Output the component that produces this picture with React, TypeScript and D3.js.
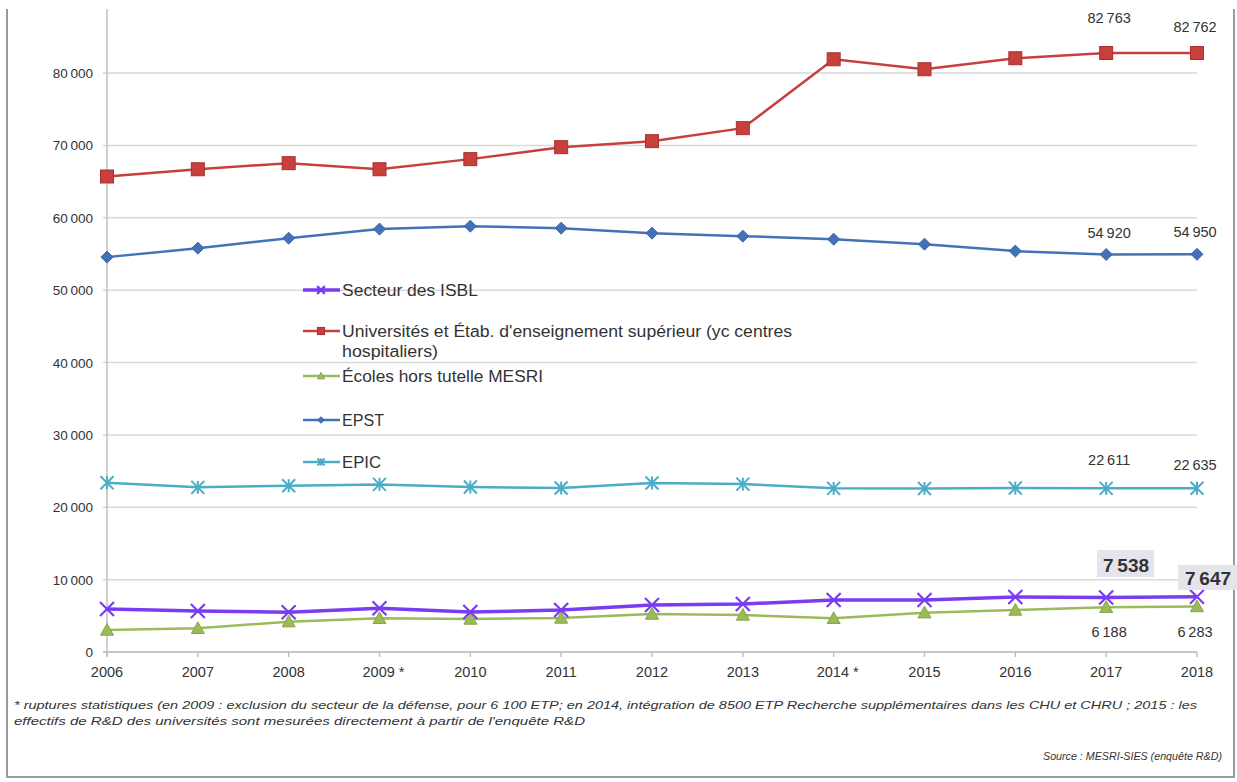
import React from "react";
import * as d3 from "d3";

const years = ["2006", "2007", "2008", "2009 *", "2010", "2011", "2012", "2013", "2014 *", "2015", "2016", "2017", "2018"];
const universites = [65700, 66700, 67540, 66700, 68100, 69750, 70580, 72380, 81900, 80520, 82040, 82763, 82762];
const epst = [54560, 55800, 57180, 58430, 58840, 58560, 57870, 57460, 57040, 56350, 55390, 54920, 54950];
const epic = [23380, 22750, 22970, 23160, 22790, 22650, 23340, 23200, 22610, 22600, 22650, 22611, 22635];
const isbl = [5940, 5660, 5480, 6040, 5520, 5800, 6490, 6630, 7180, 7180, 7600, 7538, 7647];
const ecoles = [3040, 3270, 4190, 4650, 4560, 4700, 5250, 5110, 4650, 5430, 5800, 6188, 6283];
const yTicks = [0, 10000, 20000, 30000, 40000, 50000, 60000, 70000, 80000];

const W = 1237, H = 782;
const fmt = (v: number) => d3.format(",")(v).replace(/,/g, "\u202F");

type Marker = "square" | "diamond" | "triangle" | "star" | "cross";

const series = [
  { name: "Secteur des ISBL", values: isbl, color: "#7a3cf0", stroke: "#6a2de0", marker: "cross" as Marker, width: 3.5, legendW: [136] },
  { name: "Universités et Étab. d'enseignement supérieur (yc centres|hospitaliers)", values: universites, color: "#c8403e", stroke: "#a8302e", marker: "square" as Marker, width: 2.5, legendW: [450, 96] },
  { name: "Écoles hors tutelle MESRI", values: ecoles, color: "#9bbb59", stroke: "#86a648", marker: "triangle" as Marker, width: 2.5, legendW: [201] },
  { name: "EPST", values: epst, color: "#4472b8", stroke: "#3a64a6", marker: "diamond" as Marker, width: 2.5, legendW: [42] },
  { name: "EPIC", values: epic, color: "#4bacc6", stroke: "#3c9cb6", marker: "star" as Marker, width: 2.5, legendW: [39] },
];

function MarkerShape({ type, x, y, color, stroke, s = 1 }: { type: Marker; x: number; y: number; color: string; stroke: string; s?: number }) {
  if (type === "square") {
    const r = 6.5 * s;
    return <rect x={x - r} y={y - r} width={2 * r} height={2 * r} fill={color} stroke={stroke} strokeWidth={1} />;
  }
  if (type === "diamond") {
    const r = 6 * s;
    return <path d={`M${x},${y - r}L${x + r},${y}L${x},${y + r}L${x - r},${y}Z`} fill={color} stroke={stroke} strokeWidth={1} />;
  }
  if (type === "triangle") {
    const r = 6.5 * s;
    return <path d={`M${x},${y - r}L${x + r},${y + r * 0.8}L${x - r},${y + r * 0.8}Z`} fill={color} stroke={stroke} strokeWidth={1} />;
  }
  if (type === "star") {
    const r = 6.5 * s;
    return (
      <g stroke={color} strokeWidth={2}>
        <line x1={x - r} y1={y - r} x2={x + r} y2={y + r} />
        <line x1={x - r} y1={y + r} x2={x + r} y2={y - r} />
        <line x1={x} y1={y - r} x2={x} y2={y + r} />
      </g>
    );
  }
  const r = 7 * s;
  return (
    <g stroke={color} strokeWidth={2.2}>
      <line x1={x - r} y1={y - r} x2={x + r} y2={y + r} />
      <line x1={x - r} y1={y + r} x2={x + r} y2={y - r} />
    </g>
  );
}

export default function App() {
  const x = d3.scalePoint<string>().domain(years).range([107, 1197]);
  const y = d3.scaleLinear().domain([0, 80000]).range([652, 73]);
  const line = d3.line<number>().x((_, i) => x(years[i]) as number).y((d) => y(d));
  const font = "Arial, 'Liberation Sans', sans-serif";
  const textColor = "#333";

  const legendY = [290, 331, 376, 420, 462];

  const labels = [
    { yr: 11, v: universites[11], dy: -30 },
    { yr: 12, v: universites[12], dy: -21 },
    { yr: 11, v: epst[11], dy: -17 },
    { yr: 12, v: epst[12], dy: -17 },
    { yr: 11, v: epic[11], dy: -23 },
    { yr: 12, v: epic[12], dy: -18 },
    { yr: 11, v: ecoles[11], dy: 30 },
    { yr: 12, v: ecoles[12], dy: 30 },
  ];

  return (
    <svg width={W} height={H} style={{ position: "absolute", left: 0, top: 0, background: "#fff" }} fontFamily={font}>
      <rect x={0} y={0} width={W} height={H} fill="#fff" />
      {/* frame */}
      <path d={`M7,9V777H1234V9`} fill="none" stroke="#9a9a9a" strokeWidth={2} />
      {/* gridlines */}
      {yTicks.map((t) => (
        <g key={t}>
          <line x1={103} x2={1197} y1={y(t)} y2={y(t)} stroke="#d9d9d9" strokeWidth={1.5} />
          <text x={93} y={y(t) + 5} textAnchor="end" fontSize={13.5} fill={textColor}>{fmt(t)}</text>
        </g>
      ))}
      {/* axes */}
      <line x1={107} x2={107} y1={9} y2={656} stroke="#bfbfbf" strokeWidth={1.5} />
      <line x1={103} x2={1197} y1={652} y2={652} stroke="#bfbfbf" strokeWidth={1.5} />
      {years.map((yr) => (
        <g key={yr}>
          <line x1={x(yr)} x2={x(yr)} y1={652} y2={657} stroke="#bfbfbf" strokeWidth={1.5} />
          <text x={(x(yr) as number) + (yr.includes("*") ? 4 : 0)} y={677} textAnchor="middle" fontSize={14.5} fill={textColor}>{yr}</text>
        </g>
      ))}
      {/* series */}
      {[...series].reverse().map((s) => (
        <g key={s.name}>
          <path d={line(s.values) || ""} fill="none" stroke={s.color} strokeWidth={s.width} />
          {s.values.map((v, i) => (
            <MarkerShape key={i} type={s.marker} x={x(years[i]) as number} y={y(v)} color={s.color} stroke={s.stroke} />
          ))}
        </g>
      ))}
      {/* data labels */}
      {labels.map((l, i) => (
        <text key={i} x={(x(years[l.yr]) as number) + (l.yr === 11 ? 3 : -2)} y={y(l.v) + l.dy} textAnchor="middle" fontSize={14.5} fill={textColor}>{fmt(l.v)}</text>
      ))}
      {/* bold boxed labels */}
      <rect x={1097} y={550} width={57} height={27} fill="#e4e4ea" />
      <text x={1126} y={572} textAnchor="middle" fontSize={19} fontWeight="bold" fill={textColor}>{fmt(isbl[11])}</text>
      <rect x={1178} y={565} width={59} height={25} fill="#e4e4ea" />
      <text x={1208} y={585} textAnchor="middle" fontSize={19} fontWeight="bold" fill={textColor}>{fmt(isbl[12])}</text>
      {/* legend */}
      {series.map((s, i) => {
        const ly = legendY[i];
        const parts = s.name.split("|");
        return (
          <g key={s.name}>
            <line x1={303} x2={340} y1={ly} y2={ly} stroke={s.color} strokeWidth={s.width} />
            <MarkerShape type={s.marker} x={321} y={ly} color={s.color} stroke={s.stroke} s={0.55} />
            {parts.map((p, j) => (
              <text key={j} x={342} y={ly + 6 + j * 20} fontSize={16} fill={textColor} textLength={s.legendW[j]} lengthAdjust="spacingAndGlyphs">{p}</text>
            ))}
          </g>
        );
      })}
      {/* footnote */}
      <text x={14} y={709} fontSize={11.5} fontStyle="italic" fill={textColor} textLength={1183} lengthAdjust="spacingAndGlyphs">
        * ruptures statistiques (en 2009 : exclusion du secteur de la défense, pour 6 100 ETP; en 2014, intégration de 8500 ETP Recherche supplémentaires dans les CHU et CHRU ; 2015 : les
      </text>
      <text x={14} y={725} fontSize={11.5} fontStyle="italic" fill={textColor} textLength={571} lengthAdjust="spacingAndGlyphs">
        effectifs de R&amp;D des universités sont mesurées directement à partir de l'enquête  R&amp;D
      </text>
      <text x={1043} y={760} fontSize={11.5} fontStyle="italic" fill={textColor} textLength={179} lengthAdjust="spacingAndGlyphs">
        Source : MESRI-SIES  (enquête R&amp;D)
      </text>
    </svg>
  );
}
